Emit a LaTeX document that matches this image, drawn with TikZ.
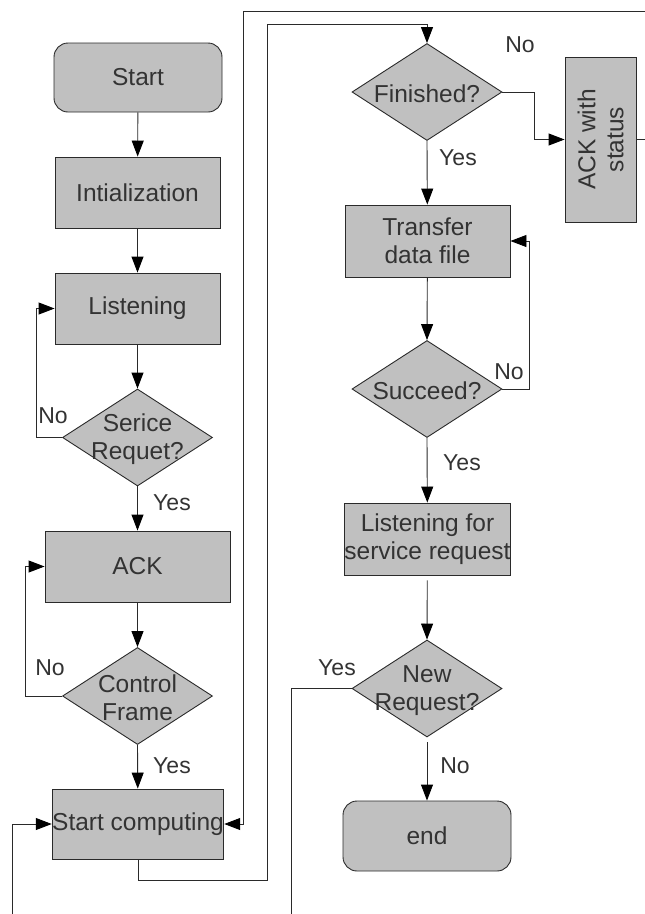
\documentclass[tikz,border=0pt]{standalone}
\usepackage{fontspec}
\setmainfont{Liberation Sans}
\usetikzlibrary{arrows.meta,shapes.geometric}
\definecolor{boxfill}{HTML}{C0C0C0}
\definecolor{ink}{HTML}{333333}
\definecolor{edge}{HTML}{2A2A2A}
\tikzset{
  every node/.style={text=ink},
  proc/.style={draw=edge, line width=0.9pt, fill=boxfill, inner sep=0pt,
    align=center, font=\fontsize{24.5}{28}\selectfont},
  term/.style={proc, rounded corners=14pt},
  decision/.style={diamond, draw=edge, line width=0.9pt, fill=boxfill,
    inner sep=0pt, minimum width=150pt, minimum height=97pt},
  dtext/.style={align=center, inner sep=0pt, text=ink, yshift=-2pt,
    font=\fontsize{24.5}{28}\selectfont},
  lbl/.style={inner sep=0pt, font=\fontsize{23}{26}\selectfont},
  arr/.style={draw=edge, line width=0.9pt,
    -{Triangle[length=16pt,width=12pt,fill=black,color=black]}},
  wire/.style={draw=edge, line width=0.9pt}
}
\begin{document}
\begin{tikzpicture}[x=1pt,y=-1pt]
\useasboundingbox (0,0) rectangle (645,914);

% left column
\node[term, minimum width=168pt, minimum height=69pt] (start) at (138,77.5) {Start};
\node[proc, minimum width=165pt, minimum height=71pt] (init) at (137.5,192.5) {Intialization};
\node[proc, minimum width=165pt, minimum height=71pt] (listen) at (137.5,308.5) {Listening};
\node[decision, label={[dtext]center:Serice\\Requet?}] (req) at (137.5,437.5) {};
\node[proc, minimum width=185pt, minimum height=71pt] (ack) at (137.5,566.5) {ACK};
\node[decision, label={[dtext]center:Control\\Frame}] (ctrl) at (137.5,696) {};
\node[proc, minimum width=166pt, minimum height=70pt] (compute) at (138,824) {Start computing};

% right column
\node[decision, label={[dtext]center:Finished?}] (fin) at (427,92) {};
\node[proc, minimum width=71pt, minimum height=165pt,
  label={[dtext,yshift=2pt,rotate=90]center:ACK with\\status}] (ackst) at (600.5,139.5) {};
\node[proc, minimum width=165pt, minimum height=72pt] (xfer) at (427.5,241) {Transfer\\data file};
\node[decision, label={[dtext]center:Succeed?}] (succ) at (427,389) {};
\node[proc, minimum width=165pt, minimum height=72pt] (listen2) at (427.5,539) {Listening for\\service request};
\node[decision, label={[dtext]center:New\\Request?}] (newreq) at (427,688.5) {};
\node[term, minimum width=168pt, minimum height=70pt] (stop) at (427,836) {end};

% loose ends of the wrapping lines
\coordinate (inL) at (12,914);
\coordinate (topR) at (645,11);
\coordinate (outR) at (645,139.5);
\coordinate (outB) at (291,914);

% main flow, left column
\draw[arr] (start) -- (init);
\draw[arr] (init) -- (listen);
\draw[arr] (listen) -- (req.north);
\draw[arr] (req.south) -- (ack);
\draw[arr] (req.west) -- (36,437.5) |- (listen.west);
\draw[arr] (ack) -- (ctrl.north);
\draw[arr] (ctrl.west) -- (25,696) |- (ack.west);
\draw[arr] (ctrl.south) -- (compute);
\draw[arr] (inL) |- (compute.west);
\draw[arr] (topR) -- (243,11) |- (compute.east);
\draw[arr] (compute.south) |- (267,880) -- (267,24) -| (fin.north);

% main flow, right column
\draw[arr] (fin.east) -- (534,92) |- (ackst.west);
\draw[wire] (ackst.east) -- (outR);
\draw[arr] (fin.south) -- (xfer);
\draw[arr] (xfer) -- (succ.north);
\draw[arr] (succ.east) -- (529,389) |- (xfer.east);
\draw[arr] (succ.south) -- (listen2);
\draw[arr, shorten <=5pt] (listen2) -- (newreq.north);
\draw[wire] (newreq.west) -- (291,688.5) -- (outB);
\draw[arr, shorten <=5pt] (newreq.south) -- (stop);

% branch labels
\node[lbl] (l1) at (53,416) {No};
\node[lbl] (l2) at (172,503) {Yes};
\node[lbl] (l3) at (50,668) {No};
\node[lbl] (l4) at (172,766) {Yes};
\node[lbl] (l5) at (520,45) {No};
\node[lbl] (l6) at (458,158) {Yes};
\node[lbl] (l7) at (509,372) {No};
\node[lbl] (l8) at (462,463) {Yes};
\node[lbl] (l9) at (337,668) {Yes};
\node[lbl] (l10) at (455,766) {No};
\end{tikzpicture}
\end{document}
